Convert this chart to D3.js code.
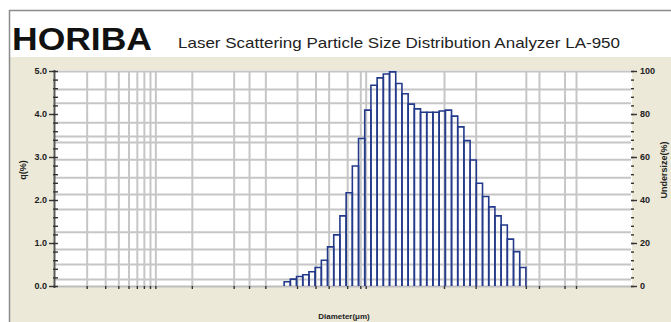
<!DOCTYPE html>
<html>
<head>
<meta charset="utf-8">
<script src="https://cdn.jsdelivr.net/npm/d3@7"></script>
<style>
  html, body { margin: 0; padding: 0; background: #fff; }
  svg { display: block; font-family: "Liberation Sans", Arial, sans-serif; }
  .grid line { stroke: #c6c6c6; stroke-width: 2; }
  .grid path { display: none; }
  .ax path { display: none; }
  .ax line { stroke: #333; stroke-width: 1.4; }
  .ax text { font-size: 9px; font-weight: bold; fill: #222; }
</style>
</head>
<body>
<div id="chart"></div>
<script>
// LA-950 size channel boundaries (um) that carry data
const edges = [1.510, 1.729, 1.981, 2.269, 2.599, 2.976, 3.409, 3.905, 4.472, 5.122,
  5.867, 6.720, 7.697, 8.816, 10.097, 11.565, 13.246, 15.172, 17.377, 19.904,
  22.797, 26.111, 29.907, 34.255, 39.234, 44.938, 51.471, 58.953, 67.523, 77.339,
  88.583, 101.460, 116.210, 133.103, 152.453, 174.616, 200.000, 229.075, 262.376, 300.518];
// q (%) per channel
const qValues = [0.10, 0.16, 0.22, 0.26, 0.33, 0.43, 0.60, 0.91, 1.19, 1.63,
  2.17, 2.79, 3.43, 4.09, 4.67, 4.84, 4.93, 4.98, 4.71, 4.47,
  4.23, 4.12, 4.04, 4.04, 4.04, 4.07, 4.09, 3.95, 3.70, 3.38,
  2.93, 2.39, 2.08, 1.84, 1.63, 1.42, 1.09, 0.80, 0.43];
const qTicks = [0, 1, 2, 3, 4, 5];
const underTicks = [0, 20, 40, 60, 80, 100];
// grid lines as they show in the picture
const gridX = [0.02, 0.03, 0.04, 0.05, 0.06, 0.07, 0.08, 0.09, 0.2, 0.5, 0.7, 1, 2, 3, 4, 6, 8, 9,
  50, 100, 300, 400, 700, 900];
const gridY = [0.16, 0.51, 0.86, 1.26, 1.79, 2.14, 2.53, 2.95, 3.35, 3.49, 3.81, 4.26, 4.58];

const W = 671, H = 322;
const plot = { left: 55, right: 631, top: 71, bottom: 286 };

const svg = d3.select('#chart').append('svg')
  .attr('width', W)
  .attr('height', H);

// panel
svg.append('rect').attr('x', 9).attr('y', 57).attr('width', W - 9).attr('height', H - 57)
  .attr('fill', '#ece9d8');
svg.append('line').attr('x1', 9).attr('x2', W).attr('y1', 10.5).attr('y2', 10.5)
  .attr('stroke', '#8c8c8c').attr('stroke-width', 1.5);
svg.append('line').attr('x1', 9.5).attr('x2', 9.5).attr('y1', 10).attr('y2', H)
  .attr('stroke', '#8c8c8c').attr('stroke-width', 1.5);

svg.append('text')
  .attr('x', 12).attr('y', 50)
  .attr('textLength', 140).attr('lengthAdjust', 'spacingAndGlyphs')
  .style('font-size', '32px').style('font-weight', 'bold').style('fill', '#111')
  .text('HORIBA');
svg.append('text')
  .attr('x', 178).attr('y', 48)
  .attr('textLength', 442).attr('lengthAdjust', 'spacingAndGlyphs')
  .style('font-size', '15px').style('fill', '#222')
  .text('Laser Scattering Particle Size Distribution Analyzer LA-950');

const x = d3.scaleLog().domain([0.01, 3000]).range([plot.left, plot.right]);
const y = d3.scaleLinear().domain([0, 5]).range([plot.bottom, plot.top]);
const y2 = d3.scaleLinear().domain([0, 100]).range([plot.bottom, plot.top]);

svg.append('rect')
  .attr('x', plot.left).attr('y', plot.top - 1)
  .attr('width', plot.right - plot.left + 1).attr('height', plot.bottom - plot.top + 2)
  .attr('fill', '#fff');

// grid
svg.append('g').attr('class', 'grid')
  .attr('transform', `translate(0,${plot.bottom})`)
  .call(d3.axisBottom(x).tickValues(gridX).tickSize(-(plot.bottom - plot.top)).tickFormat(''));
svg.append('g').attr('class', 'grid')
  .attr('transform', `translate(${plot.left},0)`)
  .call(d3.axisLeft(y).tickValues(gridY.concat([5])).tickSize(-(plot.right - plot.left)).tickFormat(''));
svg.append('line').attr('class', 'frame')
  .attr('x1', plot.left).attr('x2', plot.right + 1)
  .attr('y1', plot.bottom + 0.5).attr('y2', plot.bottom + 0.5)
  .attr('stroke', '#bdbdbd').attr('stroke-width', 2);

// histogram bars
const bins = qValues.map((v, i) => ({ x0: edges[i], x1: edges[i + 1], q: v }));
svg.append('g').selectAll('path')
  .data(bins)
  .enter().append('path')
  .attr('d', d => 'M' + x(d.x0) + ',' + y(0) + 'V' + y(d.q) + 'H' + x(d.x1) + 'V' + y(0))
  .attr('fill', 'none')
  .attr('stroke', '#23398a')
  .attr('stroke-width', 1.6);

// left axis
svg.append('line')
  .attr('x1', plot.left - 0.5).attr('x2', plot.left - 0.5)
  .attr('y1', plot.top - 1).attr('y2', plot.bottom + 2)
  .attr('stroke', '#5a5a5a').attr('stroke-width', 2);
svg.append('g').attr('class', 'ax')
  .attr('transform', `translate(${plot.left},0)`)
  .call(d3.axisLeft(y).tickValues(d3.range(0, 5.01, 0.2)).tickSizeInner(-3).tickSizeOuter(0).tickFormat(''))
  .selectAll('line').attr('x1', -2);
svg.append('g').attr('class', 'ax')
  .attr('transform', `translate(${plot.left},0)`)
  .call(d3.axisLeft(y).tickValues(qTicks).tickSize(6).tickPadding(2).tickFormat(d3.format('.1f')));

// right axis
svg.append('g').attr('class', 'ax')
  .attr('transform', `translate(${plot.right},0)`)
  .call(d3.axisRight(y2).tickValues(d3.range(0, 100.1, 4)).tickSizeInner(3).tickSizeOuter(0).tickFormat(''));
svg.append('g').attr('class', 'ax')
  .attr('transform', `translate(${plot.right},0)`)
  .call(d3.axisRight(y2).tickValues(underTicks).tickSize(6).tickPadding(3).tickFormat(d3.format('d')));

// bottom ticks
svg.append('g').attr('class', 'ax')
  .attr('transform', `translate(0,${plot.bottom})`)
  .call(d3.axisBottom(x).tickValues(gridX).tickSizeInner(3).tickSizeOuter(0).tickFormat(''));

// axis titles
svg.append('text')
  .attr('transform', 'translate(26,170) rotate(-90)')
  .attr('text-anchor', 'middle')
  .style('font-size', '9px').style('font-weight', 'bold').style('fill', '#222')
  .text('q(%)');
svg.append('text')
  .attr('transform', 'translate(667,170) rotate(-90)')
  .attr('text-anchor', 'middle')
  .style('font-size', '9px').style('font-weight', 'bold').style('fill', '#222')
  .text('Undersize(%)');
svg.append('text')
  .attr('x', 344).attr('y', 319)
  .attr('text-anchor', 'middle')
  .style('font-size', '8px').style('font-weight', 'bold').style('fill', '#222')
  .text('Diameter(\u03bcm)');
</script>
</body>
</html>
